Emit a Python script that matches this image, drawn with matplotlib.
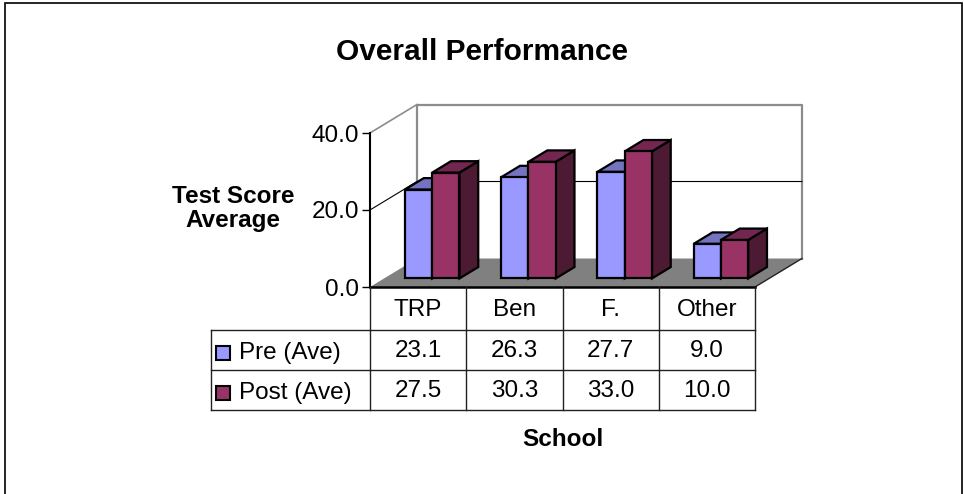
import matplotlib
matplotlib.use("Agg")
import matplotlib.pyplot as plt
from matplotlib.patches import Polygon, Rectangle

# Data
categories = ["TRP", "Ben", "F.", "Other"]
series_names = ["Pre (Ave)", "Post (Ave)"]
pre_ave = [23.1, 26.3, 27.7, 9.0]
post_ave = [27.5, 30.3, 33.0, 10.0]
y_ticks = [0, 20, 40]

plt.rcParams['font.family'] = ['Liberation Sans', 'DejaVu Sans']
FS = 17.5

W, H = 964, 494
fig = plt.figure(figsize=(W / 100, H / 100), dpi=100)


def px_box(x0, y0, x1, y1):
    # pixel box (top-left origin) -> figure fraction
    return [x0 / W, 1 - y1 / H, (x1 - x0) / W, (y1 - y0) / H]


# front plane of the 3D plot
ax = fig.add_axes(px_box(370, 133, 755, 287))
ax.set_xlim(0, len(categories))
ax.set_ylim(0, 40)
ax.patch.set_visible(False)
for s in ['top', 'right', 'bottom']:
    ax.spines[s].set_visible(False)
ax.spines['left'].set_color('black')
ax.spines['left'].set_linewidth(1.5)
ax.spines['left'].set_zorder(5)
ax.set_xticks([])
ax.set_yticks(y_ticks, labels=[f"{t:.1f}" for t in y_ticks])
ax.tick_params(axis='y', length=6, width=1, pad=2, labelsize=FS)

# depth vector (data units)
DX, DY = 0.488, 7.4
F0, F1 = 0.30, 0.70   # bar front / back depth
BW = 0.283
n = len(categories)


def shift(pts, f):
    return [(x + f * DX, y + f * DY) for x, y in pts]


wall_gray = '#8c8c8c'
# back wall and side wall
ax.add_patch(Polygon(shift([(0, 0), (n, 0), (n, 40), (0, 40)], 1),
                     fc='white', ec='none', zorder=1, clip_on=False))
ax.add_patch(Polygon([(0, 0), (DX, DY), (DX, 40 + DY), (0, 40)],
                     fc='white', ec='none', zorder=1, clip_on=False))
ax.plot([DX, DX, n + DX, n + DX], [DY, 40 + DY, 40 + DY, DY],
        color=wall_gray, lw=1.6, clip_on=False, zorder=1.5)
ax.plot([0, DX], [40, 40 + DY], color=wall_gray, lw=1.2, clip_on=False, zorder=1.5)

# gridline at 20
for t in y_ticks[1:-1]:
    ax.plot([0, DX, n + DX], [t, t + DY, t + DY], color='black', lw=0.8,
            clip_on=False, zorder=1.6)

# floor
ax.add_patch(Polygon([(0, 0), (n, 0), (n + DX, DY), (DX, DY)],
                     fc='#808080', ec='none', zorder=2, clip_on=False))
ax.plot([n, n + DX], [0, DY], color='#222222', lw=1, clip_on=False, zorder=2.1)
ax.plot([0, n], [0, 0], color='black', lw=1.8, clip_on=False, zorder=2.2)

# bars
pre_cols = ('#9999FF', '#7373BF', '#4D4D80')
post_cols = ('#993366', '#732650', '#4D1A33')
for i in range(n):
    c = i + 0.5
    for x0, v, cols in [(c - BW, pre_ave[i], pre_cols), (c, post_ave[i], post_cols)]:
        x1 = x0 + BW
        front = shift([(x0, 0), (x1, 0), (x1, v), (x0, v)], F0)
        top = shift([(x0, v), (x1, v)], F0) + shift([(x1, v), (x0, v)], F1)
        side = shift([(x1, 0), (x1, v)], F0) + shift([(x1, v), (x1, 0)], F1)
        for pts, col in [(side, cols[2]), (top, cols[1]), (front, cols[0])]:
            ax.add_patch(Polygon(pts, fc=col, ec='black', lw=1.6,
                                 joinstyle='miter', zorder=3, clip_on=False))

# data table
LX = -(370 - 211) / 96.25
row_edges = [0, 43, 83, 123]
tab = fig.add_axes(px_box(211, 287, 755, 410))
tab.set_xlim(LX, n)
tab.set_ylim(row_edges[-1], 0)
tab.axis('off')
lc = '#202020'
for y in row_edges[1:]:
    tab.plot([LX, n], [y, y], color=lc, lw=1, clip_on=False)
for x in range(n + 1):
    tab.plot([x, x], [row_edges[0], row_edges[-1]], color=lc, lw=1, clip_on=False)
tab.plot([LX, LX], [row_edges[1], row_edges[-1]], color=lc, lw=1, clip_on=False)


def row_mid(r):
    return (row_edges[r] + row_edges[r + 1]) / 2 + 1

for i, name in enumerate(categories):
    tab.text(i + 0.5, row_mid(0), name, ha='center', va='center', fontsize=FS)

px = 1 / 96.25
for r, (name, vals, cols) in enumerate([(series_names[0], pre_ave, pre_cols),
                                        (series_names[1], post_ave, post_cols)], start=1):
    ym = row_mid(r) + 2
    tab.add_patch(Rectangle((LX + 5 * px, ym - 7), 14 * px, 14, fc=cols[0],
                            ec='black', lw=1.5, clip_on=False))
    tab.text(LX + 28 * px, ym, name, ha='left', va='center', fontsize=FS)
    for i, v in enumerate(vals):
        tab.text(i + 0.5, row_mid(r), f"{v:.1f}", ha='center', va='center', fontsize=FS)

# titles
fig.text(0.5, 1 - 60 / H, "Overall Performance", ha='center', va='baseline',
         fontsize=21.5, fontweight='bold')
fig.text(233 / W, 1 - 203 / H, "Test Score", ha='center', va='baseline',
         fontsize=FS, fontweight='bold')
fig.text(233 / W, 1 - 226.5 / H, "Average", ha='center', va='baseline',
         fontsize=FS, fontweight='bold')
fig.text(562.5 / W, 1 - 446 / H, "School", ha='center', va='baseline',
         fontsize=FS, fontweight='bold')

# outer chart border
fig.patches.append(Rectangle((5 / W, -0.05), 957 / W, (H - 3) / H + 0.05,
                             transform=fig.transFigure, fill=False,
                             ec='black', lw=1.2))

fig.savefig("out.png", dpi=100)
